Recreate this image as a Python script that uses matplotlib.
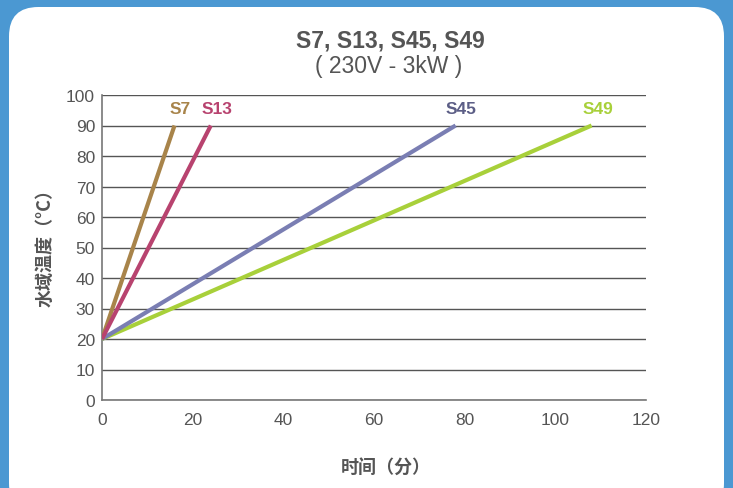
import matplotlib.pyplot as plt
from matplotlib.patches import FancyBboxPatch

plt.rcParams['font.family'] = ['Liberation Sans', 'Noto Sans CJK SC', 'DejaVu Sans']

# heating curves: start at 20 C, reach 90 C
models = ["S7", "S13", "S45", "S49"]
start_min = [0, 0, 0, 0]
end_min = [16, 24, 78, 108]
start_temp = [20, 20, 20, 20]
end_temp = [90, 90, 90, 90]
line_colors = ["#a8844a", "#b8436f", "#7a7eb3", "#a8d03a"]
label_colors = ["#a8844a", "#b8436f", "#5c5e86", "#a8d03a"]

x_ticks = [0, 20, 40, 60, 80, 100, 120]
y_ticks = [0, 10, 20, 30, 40, 50, 60, 70, 80, 90, 100]

fig = plt.figure(figsize=(7.33, 4.89), dpi=100)
fig.patch.set_facecolor("#4b98d2")
panel = FancyBboxPatch((9 / 733, -0.05), 715 / 733, 1 - 8 / 489 + 0.05,
                       boxstyle="round,pad=0,rounding_size=0.04",
                       transform=fig.transFigure, facecolor="white",
                       edgecolor="none", mutation_aspect=733 / 489, zorder=-10)
fig.patches.append(panel)

ax = fig.add_axes([102 / 733, 1 - 401 / 489, 544 / 733, 305 / 489])
ax.set_facecolor("none")

order = [3, 2, 0, 1]
for i in order:
    ax.plot([start_min[i], end_min[i]], [start_temp[i], end_temp[i]],
            color=line_colors[i], lw=3.0, solid_capstyle="butt", zorder=3)
for i in range(len(models)):
    ax.text(end_min[i] + 1.3, end_temp[i] + 5.5, models[i], color=label_colors[i],
            fontsize=12.5, fontweight="bold", ha="center", va="center")

ax.set_xlim(0, 120)
ax.set_ylim(0, 100)
ax.set_xticks(x_ticks)
ax.set_yticks(y_ticks)
ax.yaxis.grid(True, color="#555555", lw=1.0)
ax.set_axisbelow(True)
for s in ["top", "right"]:
    ax.spines[s].set_visible(False)
for s in ["left", "bottom"]:
    ax.spines[s].set_color("#777777")
    ax.spines[s].set_linewidth(1.2)
ax.tick_params(length=0, labelsize=12.5, labelcolor="#555555")
ax.tick_params(axis="x", pad=9)
ax.tick_params(axis="y", pad=5)

ax.set_xlabel("时间（分）", fontsize=13, fontweight="bold", color="#555555",
              family=["Noto Sans CJK SC", "DejaVu Sans"], va="center")
ax.set_ylabel("水域温度（°C）", fontsize=13, fontweight="bold", color="#555555",
              family=["Noto Sans CJK SC", "DejaVu Sans"], va="center")
ax.xaxis.set_label_coords(0.522, -0.22)
ax.yaxis.set_label_coords(-0.105, 0.518)

fig.text(390 / 733, 1 - 41 / 489, "S7, S13, S45, S49", ha="center", va="center",
         fontsize=16.5, fontweight="bold", color="#555555")
fig.text(389 / 733, 1 - 67 / 489, "( 230V - 3kW )", ha="center", va="center",
         fontsize=16.5, color="#555555")

fig.savefig("out.png", dpi=100, facecolor=fig.get_facecolor())
